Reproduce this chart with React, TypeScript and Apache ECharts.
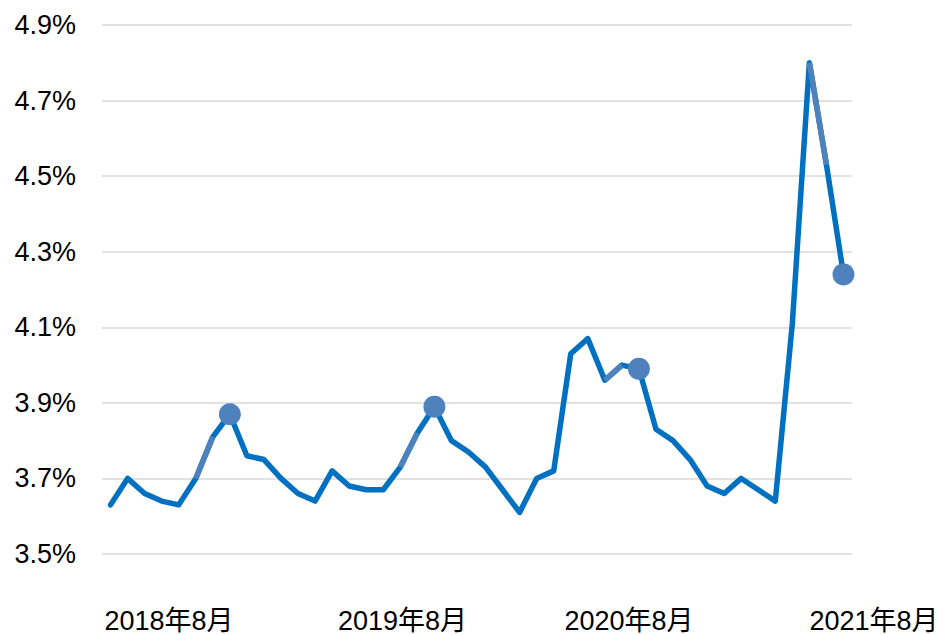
import React, { useEffect, useRef } from "react";
import * as echarts from "echarts";

const months: string[] = [
  "2018年1月", "2018年2月", "2018年3月", "2018年4月", "2018年5月", "2018年6月",
  "2018年7月", "2018年8月", "2018年9月", "2018年10月", "2018年11月", "2018年12月",
  "2019年1月", "2019年2月", "2019年3月", "2019年4月", "2019年5月", "2019年6月",
  "2019年7月", "2019年8月", "2019年9月", "2019年10月", "2019年11月", "2019年12月",
  "2020年1月", "2020年2月", "2020年3月", "2020年4月", "2020年5月", "2020年6月",
  "2020年7月", "2020年8月", "2020年9月", "2020年10月", "2020年11月", "2020年12月",
  "2021年1月", "2021年2月", "2021年3月", "2021年4月", "2021年5月", "2021年6月",
  "2021年7月", "2021年8月",
];

const rates: number[] = [
  3.63, 3.70, 3.66, 3.64, 3.63, 3.70, 3.81, 3.87, 3.76, 3.75, 3.70, 3.66,
  3.64, 3.72, 3.68, 3.67, 3.67, 3.73, 3.82, 3.89, 3.80, 3.77, 3.73, 3.67,
  3.61, 3.70, 3.72, 4.03, 4.07, 3.96, 4.00, 3.99, 3.83, 3.80, 3.75, 3.68,
  3.66, 3.70, 3.67, 3.64, 4.11, 4.80, 4.53, 4.24,
];

// Start index of the lighter two-point segments before each August marker
const lightSegmentStarts: number[] = [5, 17, 29, 41];
// August points carrying a marker
const markerIndices: number[] = [7, 19, 31, 43];

const xTickLabels: string[] = ["2018年8月", "2019年8月", "2020年8月", "2021年8月"];

const yMin = 3.5;
const yMax = 4.9;
const yStep = 0.2;

const FONT = "'Liberation Sans', Arial, 'Noto Sans CJK JP', sans-serif";

export default function App() {
  const ref = useRef<HTMLDivElement>(null);

  useEffect(() => {
    if (!ref.current) return;
    const chart = echarts.init(ref.current, undefined, { renderer: "svg" });

    const lightData = rates.map((v, i) =>
      lightSegmentStarts.some((s) => i === s || i === s + 1) ? v : null
    );
    const markerData = rates.map((v, i) => (markerIndices.includes(i) ? v : null));

    const labelCenters = [169, 402.5, 629, 874];

    chart.setOption({
      animation: false,
      backgroundColor: "#ffffff",
      grid: { left: 102, right: 91, top: 25, bottom: 81, containLabel: false },
      xAxis: {
        type: "category",
        data: months,
        boundaryGap: true,
        axisLine: { show: false },
        axisTick: { show: false },
        axisLabel: { show: false },
        splitLine: { show: false },
      },
      yAxis: {
        type: "value",
        min: yMin,
        max: yMax,
        interval: yStep,
        axisLine: { show: false },
        axisTick: { show: false },
        axisLabel: {
          margin: 26,
          fontSize: 27,
          color: "#000000",
          fontFamily: FONT,
          formatter: (v: number) => v.toFixed(1) + "%",
        },
        splitLine: { show: true, lineStyle: { color: "#d9d9d9", width: 1.5 } },
      },
      series: [
        {
          type: "line",
          data: rates,
          symbol: "none",
          z: 2,
          lineStyle: { color: "#0070C0", width: 5.5, cap: "round", join: "round" },
        },
        {
          type: "line",
          data: lightData,
          symbol: "none",
          connectNulls: false,
          z: 3,
          lineStyle: { color: "#4F81BD", width: 5.5, cap: "butt", join: "round" },
        },
        {
          type: "line",
          data: markerData,
          symbol: "circle",
          symbolSize: 22,
          showSymbol: true,
          showAllSymbol: true,
          z: 4,
          lineStyle: { width: 0, opacity: 0 },
          itemStyle: { color: "#4F81BD", borderWidth: 0 },
        },
      ],
      graphic: xTickLabels.map((t, i) => ({
        type: "text",
        x: labelCenters[i],
        y: 621,
        style: {
          text: t,
          fontSize: 27,
          lineHeight: 22,
          fontFamily: FONT,
          fill: "#000000",
          align: "center",
          verticalAlign: "middle",
        },
      })),
    });

    return () => chart.dispose();
  }, []);

  return (
    <div
      ref={ref}
      style={{ position: "fixed", left: 0, top: 0, width: 943, height: 635, background: "#fff" }}
    />
  );
}
